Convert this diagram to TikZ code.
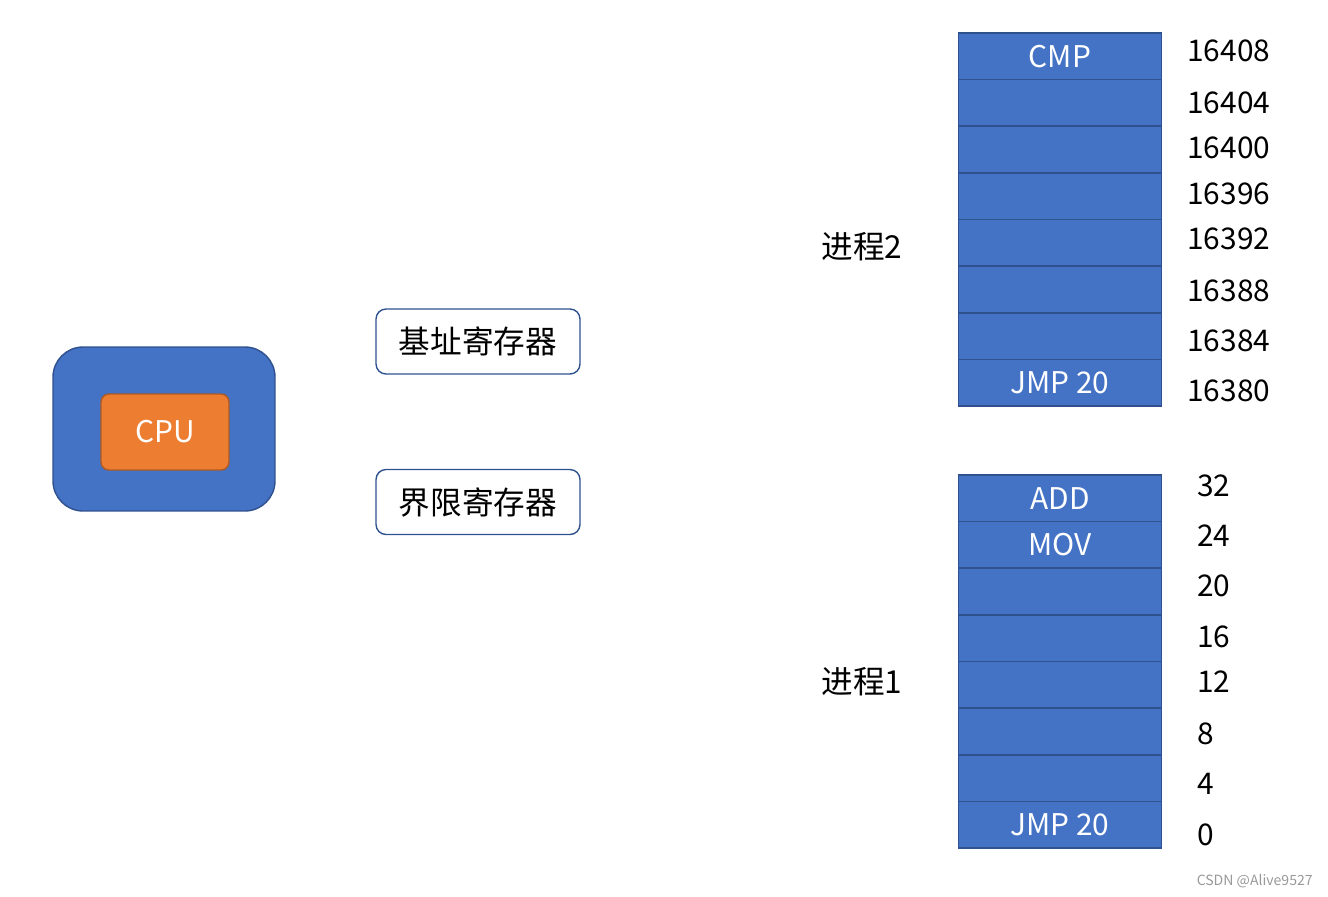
\documentclass[tikz,border=0pt]{standalone}
\usepackage{fontspec}
\setmainfont{Noto Sans CJK SC}

\definecolor{cellblue}{HTML}{4472C4}
\definecolor{edgeblue}{HTML}{2F528F}
\definecolor{cpuorange}{HTML}{ED7D31}
\definecolor{cpuedge}{HTML}{AE5A21}

\tikzset{
	big text/.style={font=\fontsize{17}{20}\selectfont},
	cjk text/.style={font=\fontsize{18}{21}\selectfont},
	mem cell/.style={big text, draw=edgeblue, fill=cellblue, line width=0.9pt,
		minimum width=4.06cm, minimum height=0.9325cm, inner sep=0pt, text=white},
	reg box/.style={cjk text, draw=edgeblue, line width=0.8pt, rounded corners=0.2cm,
		minimum width=4.08cm, minimum height=1.3cm, inner sep=0pt},
	addr label/.style={big text, anchor=west, inner sep=0pt}
}

\begin{document}
\begin{tikzpicture}[x=0.02cm, y=-0.02cm]
		\useasboundingbox (0,0) rectangle (1328,896);

		% CPU
		\node [draw=edgeblue, fill=cellblue, line width=0.8pt, rounded corners=0.6cm,
			minimum width=4.44cm, minimum height=3.28cm] (board) at (164,429) {};
		\node [big text, draw=cpuedge, fill=cpuorange, line width=0.8pt, rounded corners=0.16cm,
			minimum width=2.56cm, minimum height=1.52cm, text=white] (cpu) at (165,432) {CPU};

		% registers
		\node [reg box] (base) at (478,341.5) {基址寄存器};
		\node [reg box] (limit) at (478,502) {界限寄存器};

		% process 2
		\node [cjk text] (p2) at (862,247) {进程2};
		\foreach \i/\t in {0/CMP, 1/, 2/, 3/, 4/, 5/, 6/, 7/JMP 20}
			\node [mem cell] (cellB\i) at (1060, 33+46.625*\i+23.3) {\t};
		\foreach \y/\a [count=\k] in {51/16408, 102.5/16404, 147.5/16400, 194/16396,
				239/16392, 291/16388, 341/16384, 391/16380}
			\node [addr label] (addrB\k) at (1187,\y) {\a};

		% process 1
		\node [cjk text] (p1) at (862,682) {进程1};
		\foreach \i/\t in {0/ADD, 1/MOV, 2/, 3/, 4/, 5/, 6/, 7/JMP 20}
			\node [mem cell] (cellA\i) at (1060, 475+46.625*\i+23.3) {\t};
		\foreach \y/\a [count=\k] in {485.5/32, 536/24, 586/20, 637/16,
				682/12, 734/8, 784/4, 835/0}
			\node [addr label] (addrA\k) at (1197,\y) {\a};

		\node [font=\fontsize{8}{10}\selectfont, text=black!40, anchor=east, inner sep=0pt] (mark) at (1313,881) {CSDN @Alive9527};
	\end{tikzpicture}
\end{document}
